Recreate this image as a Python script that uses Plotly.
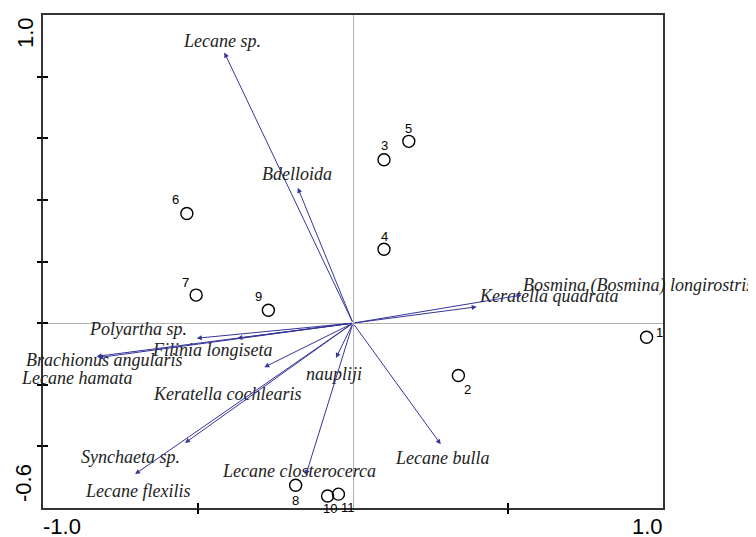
import plotly.graph_objects as go

# Species (arrows) - biplot scores
species = ["Lecane sp.", "Bdelloida", "Polyartha sp.", "Filinia longiseta",
           "Brachionus angularis", "Lecane hamata", "Keratella cochlearis",
           "naupliji", "Synchaeta sp.", "Lecane flexilis", "Lecane closterocerca",
           "Lecane bulla", "Keratella quadrata", "Bosmina (Bosmina) longirostris"]
sp_x = [-0.415, -0.178, -0.504, -0.373, -0.827, -0.822, -0.286, -0.055, -0.542,
        -0.703, -0.152, 0.283, 0.399, 0.544]
sp_y = [0.878, 0.439, -0.049, -0.049, -0.108, -0.112, -0.143, -0.113, -0.389,
        -0.490, -0.493, -0.393, 0.053, 0.091]

# Samples (circles)
samples = ["1", "2", "3", "4", "5", "6", "7", "8", "9", "10", "11"]
smp_x = [0.947, 0.340, 0.100, 0.100, 0.180, -0.536, -0.506, -0.185, -0.273, -0.082, -0.047]
smp_y = [-0.046, -0.170, 0.530, 0.240, 0.590, 0.356, 0.091, -0.526, 0.042, -0.561, -0.555]

# label pixel offsets (style only)
sp_off = [(-2, 12), (-1, 14), (-59, 9), (-25, -12), (8, -4), (-22, -20), (-37, -27),
          (-2, -16), (-54, -14), (2, -17), (-7, 4), (1, -14), (72, 11), (116, 10)]
smp_off = [(13, 5), (9, -14), (0, 14), (0, 13), (0, 13), (-11, 14), (-11, 13),
           (0, -15), (-10, 14), (2, -13), (10, -13)]

ARROW = "#35359a"

fig = go.Figure()
fig.add_trace(go.Scatter(x=smp_x, y=smp_y, mode="markers",
                         marker=dict(symbol="circle-open", size=12, color="black",
                                     line=dict(width=1.4, color="black")),
                         hoverinfo="skip", showlegend=False))

ann = []
for name, x, y, (dx, dy) in zip(species, sp_x, sp_y, sp_off):
    ann.append(dict(x=x, y=y, ax=0, ay=0, xref="x", yref="y", axref="x", ayref="y",
                    text="", showarrow=True, arrowhead=2, arrowsize=1, arrowwidth=1,
                    arrowcolor=ARROW, standoff=0, startstandoff=0))
    ann.append(dict(x=x, y=y, xref="x", yref="y", text="<i>" + name + "</i>",
                    showarrow=False, xshift=dx, yshift=dy, xanchor="center",
                    yanchor="middle",
                    font=dict(family="Liberation Serif", size=18, color="#222222")))
for name, x, y, (dx, dy) in zip(samples, smp_x, smp_y, smp_off):
    ann.append(dict(x=x, y=y, xref="x", yref="y", text=name, showarrow=False,
                    xshift=dx, yshift=dy, xanchor="center", yanchor="middle",
                    font=dict(family="Liberation Sans", size=13, color="black")))

# Axis end labels
big = dict(family="Liberation Sans", size=22, color="black")
ann += [
    dict(x=0, y=1, xref="paper", yref="paper", text="1.0", textangle=-90,
         xanchor="center", yanchor="middle",
         showarrow=False, xshift=-18, yshift=-18, font=big),
    dict(x=0, y=0, xref="paper", yref="paper", text="-0.6", textangle=-90,
         xanchor="center", yanchor="middle",
         showarrow=False, xshift=-20, yshift=25, font=big),
    dict(x=0, y=0, xref="paper", yref="paper", text="-1.0", xanchor="left",
         yanchor="top", showarrow=False, xshift=-2, yshift=-4, font=big),
    dict(x=1, y=0, xref="paper", yref="paper", text="1.0", xanchor="right",
         yanchor="top", showarrow=False, xshift=2, yshift=-4, font=big),
]

fig.update_layout(
    width=748, height=529,
    margin=dict(l=35, r=93, t=5, b=29),
    paper_bgcolor="white", plot_bgcolor="white",
    annotations=ann,
    xaxis=dict(range=[-1, 1], tickvals=[-0.5, 0.5], showticklabels=False,
               ticks="inside", ticklen=5, tickcolor="black", tickwidth=1.5,
               showgrid=False, zeroline=True, zerolinecolor="#b0b0b0", zerolinewidth=1,
               showline=True, linecolor="#333333", linewidth=2, mirror=True),
    yaxis=dict(range=[-0.6, 1.0], tickvals=[-0.4, -0.2, 0, 0.2, 0.4, 0.6, 0.8],
               showticklabels=False, ticks="inside", ticklen=5, tickcolor="black",
               tickwidth=1.5, showgrid=False, zeroline=True, zerolinecolor="#b0b0b0",
               zerolinewidth=1, showline=True, linecolor="#333333", linewidth=2,
               mirror=True),
    xaxis2=dict(overlaying="x", matches="x", range=[-1, 1], tickvals=[-0.5, 0.5],
                showticklabels=False, ticks="outside", ticklen=5, tickcolor="black",
                tickwidth=1.5, showgrid=False, zeroline=False, showline=False,
                side="bottom"),
    yaxis2=dict(overlaying="y", matches="y", range=[-0.6, 1.0],
                tickvals=[-0.4, -0.2, 0, 0.2, 0.4, 0.6, 0.8], showticklabels=False,
                ticks="outside", ticklen=5, tickcolor="black", tickwidth=1.5,
                showgrid=False, zeroline=False, showline=False, side="left"),
)
fig.add_trace(go.Scatter(x=[None], y=[None], xaxis="x2", yaxis="y2",
                         showlegend=False, hoverinfo="skip"))

fig.write_html("out.html")
